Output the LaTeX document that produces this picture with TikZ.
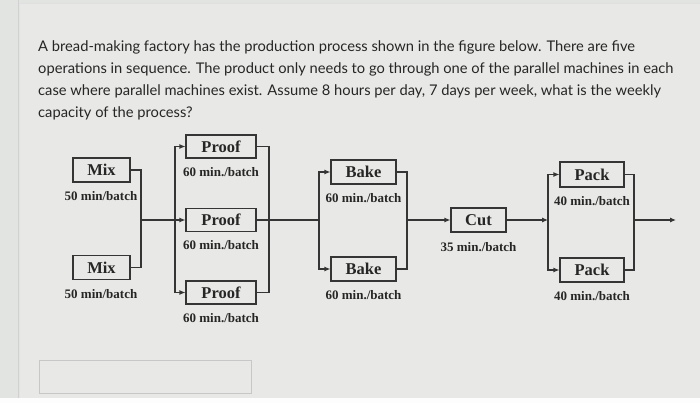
\documentclass[tikz,border=0pt]{standalone}
\usepackage{fontspec}
\setmainfont{Lato}
\newfontfamily\diagfont{Liberation Serif}
\usetikzlibrary{arrows.meta}
\definecolor{bg}{HTML}{E2E4E1}
\definecolor{bgl}{HTML}{E8E9E6}
\definecolor{ln}{HTML}{353535}
\definecolor{txt}{HTML}{262626}
\begin{document}
\begin{tikzpicture}[x=1pt,y=-1pt,
  box/.style={draw=ln,line width=1.1pt,fill=bgl,inner sep=0pt,text=txt,
    font=\diagfont\bfseries\fontsize{16.5}{18}\selectfont},
  lab/.style={inner sep=0pt,text=txt,font=\diagfont\bfseries\fontsize{13}{15}\selectfont},
  qline/.style={anchor=base west,inner sep=0pt,text=txt,font=\fontsize{14.7}{22}\selectfont},
  wire/.style={draw=ln,line width=1.1pt},
  flow/.style={wire,-{Latex[length=6pt,width=5pt]}}]
\useasboundingbox (0,0) rectangle (700,403);
\fill[bg] (0,0) rectangle (700,403);
\fill[bgl] (20,4) rectangle (700,398);
\draw[black!18,line width=0.8pt] (18.5,0) -- (18.5,398);
\draw[black!12,line width=0.8pt] (18.5,3.5) -- (700,3.5);
\fill[white!92!bg] (0,398) rectangle (700,403);
% question
\node[qline] (q1) at (38,52) {A bread-making factory has the production process shown in the figure below. There are five};
\node[qline] (q2) at (38,74) {operations in sequence. The product only needs to go through one of the parallel machines in each};
\node[qline] (q3) at (38,96) {case where parallel machines exist. Assume 8 hours per day, 7 days per week, what is the weekly};
\node[qline] (q4) at (38,118) {capacity of the process?};
% boxes
\node[box,minimum width=57pt,minimum height=24pt] (m1) at (101.5,170) {Mix};
\node[box,minimum width=57pt,minimum height=24pt] (m2) at (101.5,267.5) {Mix};
\node[lab] (lm1) at (101,196) {50 min/batch};
\node[lab] (lm2) at (101,294) {50 min/batch};
\node[box,minimum width=70pt,minimum height=23pt] (p1) at (221,146.5) {Proof};
\node[box,minimum width=70pt,minimum height=23pt] (p2) at (221,220) {Proof};
\node[box,minimum width=70pt,minimum height=23pt] (p3) at (221,292.5) {Proof};
\node[lab] (lp1) at (221,172) {60 min./batch};
\node[lab] (lp2) at (221,245) {60 min./batch};
\node[lab] (lp3) at (221,318) {60 min./batch};
\node[box,minimum width=65pt,minimum height=24pt] (b1) at (363.5,172) {Bake};
\node[box,minimum width=65pt,minimum height=24pt] (b2) at (363.5,269) {Bake};
\node[lab] (lb1) at (363.5,198) {60 min./batch};
\node[lab] (lb2) at (363.5,295) {60 min./batch};
\node[box,minimum width=55pt,minimum height=24pt] (c) at (478.5,220) {Cut};
\node[lab] (lc) at (478.5,247) {35 min./batch};
\node[box,minimum width=64pt,minimum height=25pt] (k1) at (592,174.5) {Pack};
\node[box,minimum width=64pt,minimum height=24pt] (k2) at (592,270) {Pack};
\node[lab] (lk1) at (592,201) {40 min./batch};
\node[lab] (lk2) at (592,296) {40 min./batch};
% junction coordinates
\coordinate (jm) at (141,220);
\coordinate (pl) at (175,220);
\coordinate (pr) at (269,220);
\coordinate (bl) at (319,220);
\coordinate (br) at (407,220);
\coordinate (kl) at (548,220);
\coordinate (kr) at (634,220);
\coordinate (out) at (676,220);
% connectors
\draw[wire] (m1.east) -| (jm);
\draw[wire] (m2.east) -| (jm);
\draw[flow] (jm) -- (p2.west);
\draw[flow] (pl) |- (p1.west);
\draw[flow] (pl) |- (p3.west);
\draw[wire] (p1.east) -| (pr);
\draw[wire] (p3.east) -| (pr);
\draw[wire] (p2.east) -- (bl);
\draw[flow] (bl) |- (b1.west);
\draw[flow] (bl) |- (b2.west);
\draw[wire] (b1.east) -| (br);
\draw[wire] (b2.east) -| (br);
\draw[flow] (br) -- (c.west);
\draw[flow] (c.east) -- (kl);
\draw[flow] (kl) |- (k1.west);
\draw[flow] (kl) |- (k2.west);
\draw[wire] (k1.east) -| (kr);
\draw[wire] (k2.east) -| (kr);
\draw[flow] (kr) -- (out);
% answer box
\node[draw=black!22,line width=0.9pt,fill=bgl,minimum width=212pt,minimum height=33pt,inner sep=0pt] (ans) at (145,376.5) {};
\end{tikzpicture}
\end{document}
